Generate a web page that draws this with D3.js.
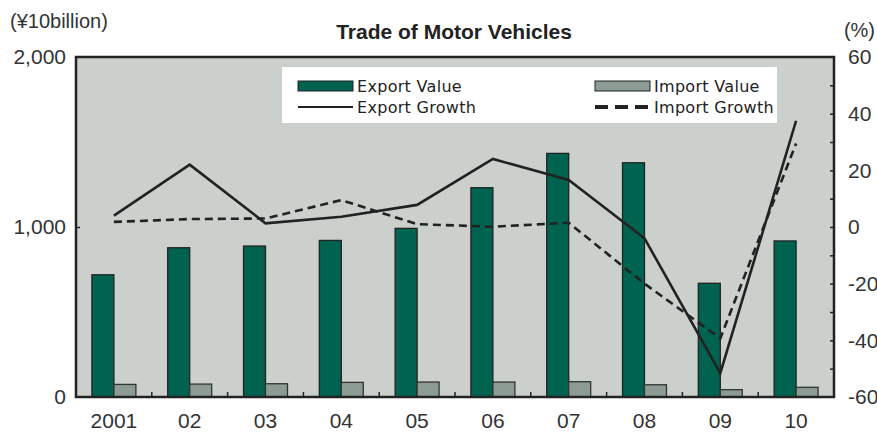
<!DOCTYPE html>
<html><head><meta charset="utf-8">
<script src="https://cdn.jsdelivr.net/npm/d3@7"></script>
<style>body{margin:0;background:#fff;}svg{display:block;}</style>
</head><body>
<svg id="c" width="877" height="432"></svg>
<script>
const years = ["2001","02","03","04","05","06","07","08","09","10"];
const exportValue = [719, 878, 888, 921, 992, 1231, 1433, 1378, 669, 918];
const importValue = [74, 76, 78, 86, 88, 88, 90, 72, 43, 57];
const exportGrowth = [4, 22, 1.3, 3.6, 7.8, 24, 16.6, -4, -51.6, 37.5];
const importGrowth = [1.8, 2.8, 3, 9.5, 1, 0.1, 1.5, -20, -39.3, 29.5];
const leftTicks = [0, 1000, 2000];
const rightTicks = [-60, -40, -20, 0, 20, 40, 60];
const title = "Trade of Motor Vehicles";

const svg = d3.select("#c");
const m = {l:76, r:834, t:57, b:397};
const x = d3.scaleBand().domain(years).range([m.l, m.r]);
const yL = d3.scaleLinear().domain([0, 2000]).range([m.b, m.t]);
const yR = d3.scaleLinear().domain([-60, 60]).range([m.b, m.t]);
const font = "'Liberation Sans', Arial, sans-serif";

svg.append("rect").attr("x", m.l).attr("y", m.t).attr("width", m.r-m.l).attr("height", m.b-m.t).attr("fill", "#cbd0cc");

const bw = x.bandwidth()*0.29;
const g = svg.append("g");
g.selectAll(".ex").data(years).join("rect")
  .attr("x", d => x(d)+x.bandwidth()/2-bw).attr("y", (d,i) => yL(exportValue[i]))
  .attr("width", bw).attr("height", (d,i) => yL(0)-yL(exportValue[i]))
  .attr("fill", "#006350").attr("stroke", "#222").attr("stroke-width", 1.3);
g.selectAll(".im").data(years).join("rect")
  .attr("x", d => x(d)+x.bandwidth()/2).attr("y", (d,i) => yL(importValue[i]))
  .attr("width", bw).attr("height", (d,i) => yL(0)-yL(importValue[i]))
  .attr("fill", "#8c9c94").attr("stroke", "#333").attr("stroke-width", 1.3);

const line = arr => d3.line().x((d,i) => x(years[i])+x.bandwidth()/2).y(d => yR(d))(arr);
svg.append("path").attr("d", line(importGrowth)).attr("fill","none").attr("stroke","#222").attr("stroke-width",2.6).attr("stroke-dasharray","8,5");
svg.append("path").attr("d", line(exportGrowth)).attr("fill","none").attr("stroke","#222").attr("stroke-width",2.6);

// frame
svg.append("rect").attr("x", m.l).attr("y", m.t).attr("width", m.r-m.l).attr("height", m.b-m.t).attr("fill", "none").attr("stroke","#222").attr("stroke-width",2.5);

// axes
const axL = svg.append("g").attr("transform", `translate(${m.l},0)`)
  .call(d3.axisLeft(yL).tickValues(leftTicks).tickSize(-4).tickPadding(10).tickFormat(d3.format(",")));
const axR = svg.append("g").attr("transform", `translate(${m.r},0)`)
  .call(d3.axisRight(yR).ticks(12).tickSize(-4).tickPadding(14).tickFormat(d => rightTicks.includes(d) ? d : ""));
const axB = svg.append("g").attr("transform", `translate(0,${m.b})`)
  .call(d3.axisBottom(x).tickSize(0).tickPadding(16));
[axL, axR, axB].forEach(a => {
  a.select(".domain").remove();
  a.selectAll("text").attr("font-family", font).attr("font-size", 21).attr("fill", "#333");
  a.selectAll("line").attr("stroke", "#222").attr("stroke-width", 1.5);
});
axL.selectAll("line").filter(d => d === 0 || d === 2000).remove();
axR.selectAll("line").filter(d => d === -60 || d === 60).remove();
axB.selectAll("text").attr("dy", "0.71em");
// category separator ticks
svg.append("g").selectAll("line").data(years.slice(1)).join("line")
  .attr("x1", d => x(d)).attr("x2", d => x(d)).attr("y1", m.b).attr("y2", m.b-5)
  .attr("stroke", "#222").attr("stroke-width", 1.5);

svg.append("text").attr("x", 10).attr("y", 28).text("(¥10billion)").attr("font-family", font).attr("font-size", 20).attr("fill","#333");
svg.append("text").attr("x", 875).attr("y", 37).attr("text-anchor","end").text("(%)").attr("font-family", font).attr("font-size", 20).attr("fill","#333");
svg.append("text").attr("x", 454).attr("y", 39).attr("text-anchor","middle").text(title).attr("font-family", font).attr("font-weight","bold").attr("font-size", 21).attr("fill","#222");

// legend
const lg = svg.append("g");
lg.append("rect").attr("x", 282).attr("y", 67).attr("width", 495).attr("height", 56).attr("fill", "#fff");
const lf = "'DejaVu Sans', sans-serif";
const items = [
  {t:"Export Value", x:298, y:86, type:"bar", c:"#006350"},
  {t:"Import Value", x:595, y:86, type:"bar", c:"#8c9c94"},
  {t:"Export Growth", x:298, y:107, type:"line"},
  {t:"Import Growth", x:595, y:107, type:"dash"}
];
items.forEach(it => {
  if (it.type === "bar") lg.append("rect").attr("x", it.x).attr("y", it.y-5).attr("width", 55).attr("height", 10).attr("fill", it.c).attr("stroke","#222").attr("stroke-width",1);
  else lg.append("line").attr("x1", it.x).attr("x2", it.x+55).attr("y1", it.y).attr("y2", it.y).attr("stroke","#222")
    .attr("stroke-width", it.type==="dash"?4:2).attr("stroke-dasharray", it.type==="dash"?"13,7":null);
  lg.append("text").attr("x", it.x+59).attr("y", it.y).attr("dy","0.35em").text(it.t).attr("font-family", lf).attr("font-size", 16).attr("letter-spacing", 0.3).attr("fill","#222");
});
</script>
</body></html>
